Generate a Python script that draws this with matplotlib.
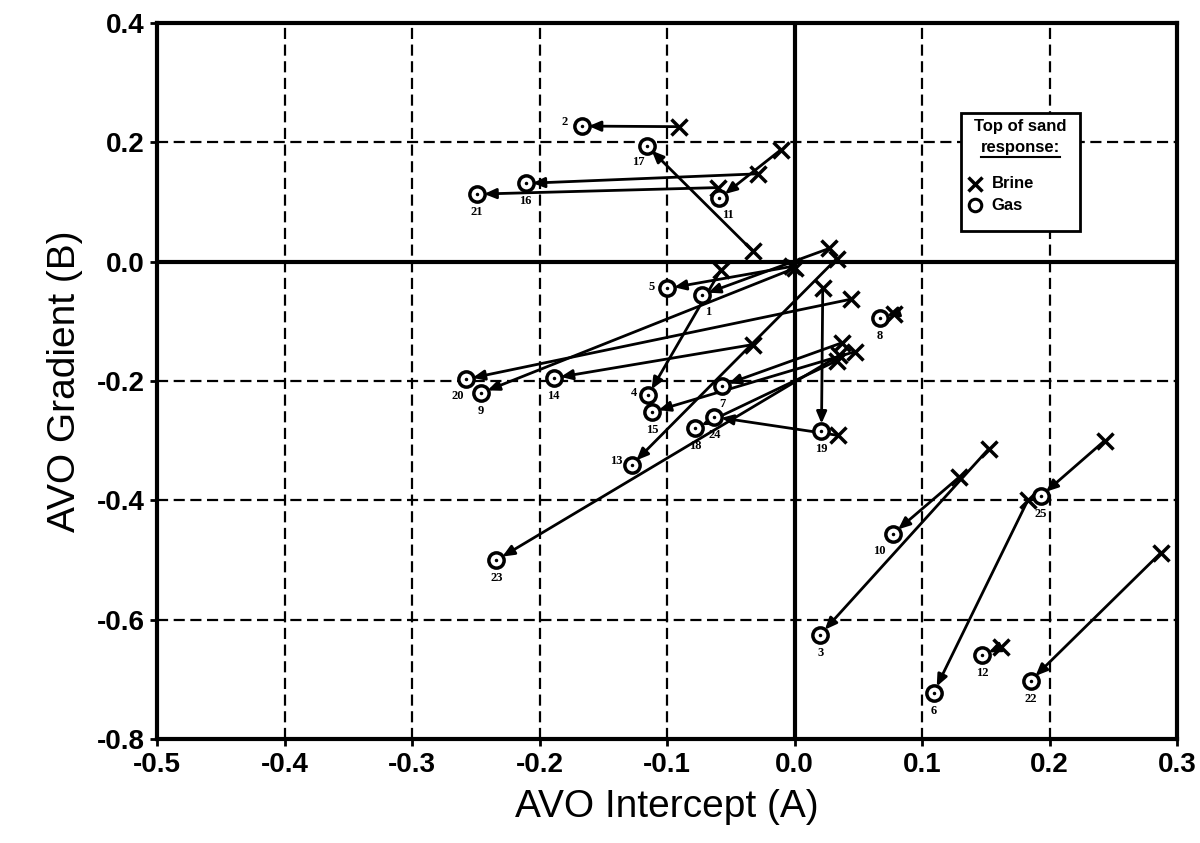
import matplotlib
matplotlib.use('Agg')
import matplotlib.pyplot as plt
from matplotlib.patches import Rectangle
from matplotlib.lines import Line2D

plt.rcParams['font.family'] = ['Liberation Sans', 'DejaVu Sans']
plt.rcParams['lines.scale_dashes'] = False

# sand id, brine (A, B) -> gas (A, B)
ids = [str(i) for i in range(1, 26)]
brine_a = [0.027, -0.091, 0.152, -0.058, -0.002, 0.183, 0.037, 0.078, 0.000, 0.129,
           -0.011, 0.162, 0.033, -0.033, 0.047, -0.029, -0.033, 0.033, 0.022, 0.044,
           -0.060, 0.287, 0.035, 0.034, 0.243]
brine_b = [0.022, 0.226, -0.314, -0.014, -0.008, -0.399, -0.136, -0.087, -0.011, -0.361,
           0.187, -0.645, 0.005, -0.139, -0.151, 0.147, 0.018, -0.166, -0.045, -0.063,
           0.124, -0.488, -0.157, -0.291, -0.300]
gas_a = [-0.073, -0.167, 0.020, -0.115, -0.100, 0.109, -0.057, 0.067, -0.246, 0.077,
         -0.059, 0.147, -0.128, -0.189, -0.112, -0.211, -0.116, -0.078, 0.021, -0.258,
         -0.249, 0.185, -0.234, -0.063, 0.193]
gas_b = [-0.056, 0.227, -0.625, -0.224, -0.045, -0.722, -0.208, -0.095, -0.220, -0.456,
         0.106, -0.659, -0.341, -0.195, -0.252, 0.131, 0.194, -0.279, -0.283, -0.197,
         0.113, -0.702, -0.500, -0.260, -0.393]

# label offsets (points) from the gas circle
lab_off = {'1': (5, -12), '2': (-12, 3), '4': (-10, 2), '5': (-11, 1), '10': (-10, -12),
           '11': (6, -12), '13': (-11, 3), '17': (-6, -12), '20': (-6, -12)}

fig = plt.figure(figsize=(12, 8.43), dpi=100)
ax = fig.add_axes([0.131, 0.123, 0.850, 0.850])

ax.set_xlim(-0.5, 0.3)
ax.set_ylim(-0.8, 0.4)

xt = [-0.5, -0.4, -0.3, -0.2, -0.1, 0.0, 0.1, 0.2, 0.3]
yt = [-0.8, -0.6, -0.4, -0.2, 0.0, 0.2, 0.4]
ax.set_xticks(xt)
ax.set_yticks(yt)
ax.set_xticklabels(['%.1f' % v for v in xt])
ax.set_yticklabels(['%.1f' % v for v in yt])

for v in xt[1:-1]:
    if v != 0.0:
        ax.axvline(v, color='k', lw=1.6, ls=(0, (8, 4)), zorder=1)
for v in yt[1:-1]:
    if v != 0.0:
        ax.axhline(v, color='k', lw=1.6, ls=(0, (8, 4)), zorder=1)
ax.axvline(0, color='k', lw=3, zorder=1)
ax.axhline(0, color='k', lw=3, zorder=1)

for i in range(len(ids)):
    ax.annotate('', xy=(gas_a[i], gas_b[i]), xytext=(brine_a[i], brine_b[i]),
                arrowprops=dict(arrowstyle='-|>,head_length=0.7,head_width=0.3',
                                color='k', lw=2, shrinkA=0, shrinkB=5), zorder=3)
ax.plot(brine_a, brine_b, 'x', color='k', ms=12, mew=2.5, zorder=4)
ax.plot(gas_a, gas_b, 'o', mfc='white', mec='k', ms=11, mew=2.5, zorder=4)
ax.plot(gas_a, gas_b, '.', color='k', ms=3, zorder=5)

for i, s in enumerate(ids):
    dx, dy = lab_off.get(s, (0, -13))
    ax.annotate(s, (gas_a[i], gas_b[i]), xytext=(dx, dy), textcoords='offset points',
                ha='center', va='center', fontsize=9, fontweight='bold',
                family='Liberation Serif', zorder=6)

# legend box
ax.add_patch(Rectangle((0.788, 0.709), 0.117, 0.165, transform=ax.transAxes,
                       fc='white', ec='k', lw=2, zorder=7))
ax.text(0.8465, 0.855, 'Top of sand', transform=ax.transAxes, ha='center', va='center',
        fontsize=12, fontweight='bold', zorder=8)
ax.text(0.8465, 0.826, 'response:', transform=ax.transAxes, ha='center', va='center',
        fontsize=12, fontweight='bold', zorder=8)
ax.add_line(Line2D([0.808, 0.885], [0.812, 0.812], transform=ax.transAxes, color='k',
                   lw=1.5, zorder=8))
ax.plot([0.802], [0.775], 'x', color='k', ms=10, mew=2.5, transform=ax.transAxes, zorder=8)
ax.plot([0.802], [0.745], 'o', mfc='white', mec='k', ms=9, mew=2.2, transform=ax.transAxes, zorder=8)
ax.text(0.818, 0.775, 'Brine', transform=ax.transAxes, ha='left', va='center',
        fontsize=12, fontweight='bold', zorder=8)
ax.text(0.818, 0.745, 'Gas', transform=ax.transAxes, ha='left', va='center',
        fontsize=12, fontweight='bold', zorder=8)

for sp in ax.spines.values():
    sp.set_linewidth(3)
ax.tick_params(direction='out', length=5, width=2, labelsize=20, pad=4)
for lab in ax.get_xticklabels() + ax.get_yticklabels():
    lab.set_fontweight('bold')

ax.set_xlabel('AVO Intercept (A)', fontsize=28, labelpad=8)
ax.set_ylabel('AVO Gradient (B)', fontsize=28, labelpad=10)

plt.savefig('out.png', dpi=100)
